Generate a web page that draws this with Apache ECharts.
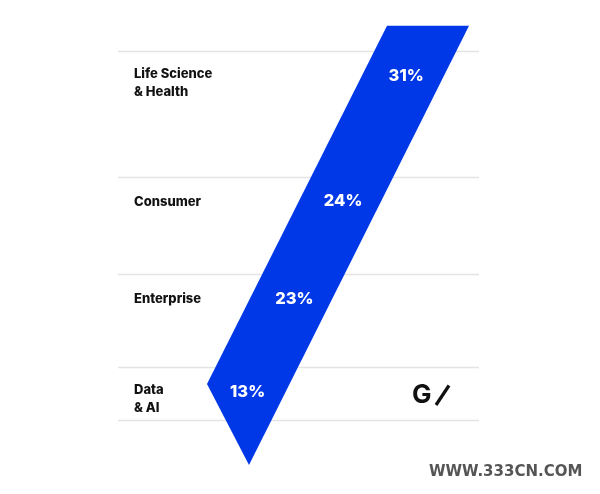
<!DOCTYPE html>
<html>
<head>
<meta charset="utf-8">
<script src="https://cdn.jsdelivr.net/npm/echarts@6/dist/echarts.min.js"></script>
<style>html,body{margin:0;padding:0;background:#fff}#c{width:600px;height:494px}</style>
</head>
<body>
<div id="c"></div>
<script>
// Data
var categories = ['Life Science\n& Health', 'Consumer', 'Enterprise', 'Data\n& AI'];
var shares = [31, 24, 23, 13];
var shareLabels = ['31%', '24%', '23%', '13%'];

// Cumulative row boundaries (rows are proportional to share)
var rowTops = [];
var acc = 0;
for (var i = 0; i < shares.length; i++) { rowTops.push(acc); acc += shares[i]; }
var totalShare = acc;

var BLUE = '#0038e8';
var PX_PER_UNIT = 4.054;
var chart = echarts.init(document.getElementById('c'), null, {renderer: 'canvas'});

// band geometry (x in px-axis units, y in share units)
var band = { topY: -6.3, bottomY: 102.1, leftPtY: 82.1,
             topL: 387, topR: 469, bottomX: 249, leftPtX: 207 };
function bandCenterX(yVal) {
  var leftX = band.topL + (band.leftPtX - band.topL) * ((yVal - band.topY) / (band.leftPtY - band.topY));
  var rightX = band.topR + (band.bottomX - band.topR) * ((yVal - band.topY) / (band.bottomY - band.topY));
  return (leftX + rightX) / 2;
}

var option = {
  animation: false,
  backgroundColor: '#fff',
  grid: { left: 0, width: 600, top: 51.2, height: 405.4 },
  xAxis: { type: 'value', min: 0, max: 600, show: false },
  yAxis: { type: 'value', min: 0, max: 100, inverse: true, show: false },
  series: [
    {
      type: 'custom',
      clip: false,
      data: [[0]],
      renderItem: function (params, api) {
        var p1 = api.coord([band.topL, band.topY]);
        var p2 = api.coord([band.topR, band.topY]);
        var p3 = api.coord([band.bottomX, band.bottomY]);
        var p4 = api.coord([band.leftPtX, band.leftPtY]);
        var lines = [];
        for (var i = 0; i <= rowTops.length; i++) {
          var v = i < rowTops.length ? rowTops[i] : totalShare;
          var a = api.coord([118, v]), b = api.coord([479, v]);
          lines.push({ type: 'line', shape: { x1: a[0], y1: Math.round(a[1]) + 0.5, x2: b[0], y2: Math.round(a[1]) + 0.5 },
                       style: { stroke: '#e4e4e4', lineWidth: 1.5 }, z2: 1 });
        }
        return { type: 'group', children: lines.concat([
          { type: 'polygon', shape: { points: [p1, p2, p3, p4] }, style: { fill: BLUE }, z2: 5 }
        ]) };
      }
    },
    {
      type: 'custom',
      clip: false,
      data: shares.map(function (s, i) { return [i, rowTops[i], s]; }),
      renderItem: function (params, api) {
        var i = api.value(0);
        var top = api.coord([0, api.value(1)]);
        var multi = categories[i].indexOf('\n') >= 0;
        var yPix = top[1] + (multi ? 23 : 25);
        var yVal = api.value(1) + 24 / PX_PER_UNIT;
        var cx = api.coord([bandCenterX(yVal), 0])[0] + 3;
        return { type: 'group', children: [
          { type: 'text', x: 134, y: multi ? yPix - 9 : yPix, z2: 10,
            style: { text: categories[i], fill: '#111', font: '800 13px Inter', lineHeight: 18,
                     verticalAlign: multi ? 'top' : 'middle', textVerticalAlign: multi ? 'top' : 'middle' } },
          { type: 'text', x: cx, y: top[1] + 24.5, z2: 10,
            style: { text: shareLabels[i], fill: '#fff', font: '800 16.5px Inter', textAlign: 'center', textVerticalAlign: 'middle', align: 'center', verticalAlign: 'middle' } }
        ] };
      }
    }
  ],
  graphic: [
    { type: 'text', left: 412, top: 382, style: { text: 'G', fill: '#111', font: '700 26px Inter' } },
    { type: 'line', shape: { x1: 436, y1: 405, x2: 449, y2: 385.5 }, style: { stroke: '#111', lineWidth: 3.2 } },
    { type: 'text', left: 429, top: 465, style: { text: 'WWW.333CN.COM', fill: '#555', font: 'bold 15px "DejaVu Sans"' } }
  ]
};
chart.setOption(option);
</script>
</body>
</html>
